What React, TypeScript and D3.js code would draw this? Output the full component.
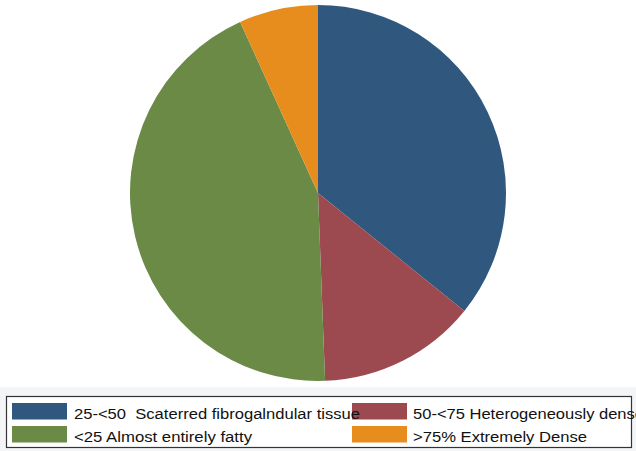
import React, { useEffect, useRef } from 'react'
import * as d3 from 'd3'

const labels = [
  '25-<50  Scaterred fibrogalndular tissue',
  '50-<75 Heterogeneously dense',
  '<25 Almost entirely fatty',
  '>75% Extremely Dense',
]
const shares = [35.8, 13.6, 43.8, 6.8]
const colors = ['#30587e', '#9c4a50', '#6a8a45', '#e68d1e']

// legend order as in the picture: row by row, two columns
const legendOrder = [0, 1, 2, 3]

const W = 636
const H = 451

const App = () => {
  const ref = useRef<SVGSVGElement>(null)

  useEffect(() => {
    const svg = d3.select(ref.current)
    svg.selectAll('*').remove()

    const cx = 318, cy = 193, r = 188
    const pie = d3.pie<number>().sort(null).value(d => d)
    const arc = d3.arc<d3.PieArcDatum<number>>().innerRadius(0).outerRadius(r)

    svg.append('g')
      .attr('transform', `translate(${cx},${cy})`)
      .selectAll('path')
      .data(pie(shares))
      .enter().append('path')
      .attr('d', arc)
      .attr('fill', (d, i) => colors[i])

    // legend
    svg.append('rect')
      .attr('x', 0).attr('y', 387).attr('width', W).attr('height', 64)
      .attr('fill', '#f3f5f7')
    svg.append('rect')
      .attr('x', 6.5).attr('y', 396.5).attr('width', 625).attr('height', 51)
      .attr('fill', 'white').attr('stroke', '#333').attr('stroke-width', 1.2)

    const col = d3.scaleOrdinal<number, number>().domain([0, 1]).range([12, 352])
    const row = d3.scaleOrdinal<number, number>().domain([0, 1]).range([403, 426])
    const pos = (i: number) => `translate(${col(i % 2)},${row(Math.floor(i / 2))})`
    // rendered widths of the condensed legend font
    const textW = [286, 231, 178, 174]

    // swatches first, then all labels on top (first label runs over the red key)
    svg.append('g').selectAll('rect')
      .data(legendOrder)
      .enter().append('rect')
      .attr('transform', (d, i) => pos(i))
      .attr('width', 55).attr('height', 16.5)
      .attr('fill', d => colors[d])

    svg.append('g').selectAll('text')
      .data(legendOrder)
      .enter().append('text')
      .attr('transform', (d, i) => pos(i))
      .attr('x', (d, i) => (i % 2 ? 61 : 62)).attr('y', 16)
      .attr('font-family', 'Liberation Sans, Arial, sans-serif')
      .attr('font-size', 15.5)
      .attr('fill', '#111')
      .attr('textLength', d => textW[d])
      .attr('lengthAdjust', 'spacingAndGlyphs')
      .style('white-space', 'pre')
      .text(d => labels[d])
  }, [])

  return (
    <svg ref={ref} width={W} height={H}
      style={{ position: 'absolute', left: 0, top: 0, background: 'white' }} />
  )
}

export default App
